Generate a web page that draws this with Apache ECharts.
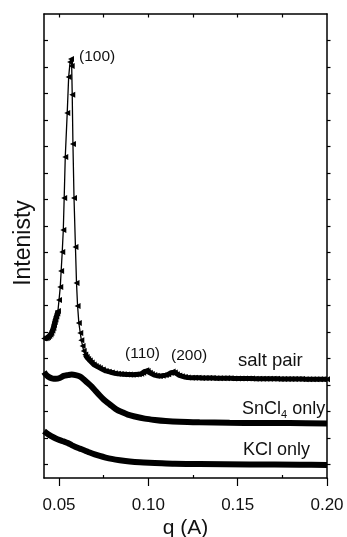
<!DOCTYPE html>
<html>
<head>
<meta charset="utf-8">
<script src="https://cdn.jsdelivr.net/npm/echarts@6/dist/echarts.min.js"></script>
<style>
  html, body { margin: 0; padding: 0; background: #fff; }
  #chart { width: 347px; height: 537px; }
</style>
</head>
<body>
<div id="chart"></div>
<script>
// q range and ticks
const qMin = 0.0416
const qMax = 0.2
const xMajorTicks = [0.05, 0.10, 0.15, 0.20]
const xMinorTicks = [0.075, 0.125, 0.175]
const xTopTicks = [0.05, 0.075, 0.10, 0.125, 0.15, 0.175]
const yTicks = [0.5, 1.5, 2.5, 3.5, 4.5, 5.5, 6.5, 7.5, 8.5, 9.5, 10.5, 11.5, 12.5, 13.5, 14.5, 15.5, 16.5]

// salt pair (offset curve with peaks)
const qSalt = [
  0.0417, 0.0424, 0.0431, 0.0438, 0.0445, 0.0452, 0.0457, 0.0463, 0.0468, 0.0472,
  0.0476, 0.0480, 0.0485, 0.0490, 0.0494, 0.0500, 0.0507, 0.0512, 0.0518, 0.0524,
  0.0529, 0.0535, 0.0546, 0.0554, 0.0562, 0.0567, 0.0571, 0.0574, 0.0578, 0.0584,
  0.0592, 0.0598, 0.0604, 0.0611, 0.0619, 0.0625, 0.0632, 0.0638, 0.0647, 0.0655,
  0.0663, 0.0672, 0.0683, 0.0694, 0.0705, 0.0717, 0.0728, 0.0745, 0.0761, 0.0778,
  0.0795, 0.0812, 0.0829, 0.0845, 0.0862, 0.0879, 0.0896, 0.0912, 0.0929, 0.0946,
  0.0960, 0.0971, 0.0980, 0.0988, 0.0996, 0.1008, 0.1019, 0.1033, 0.1047, 0.1064,
  0.1080, 0.1097, 0.1111, 0.1125, 0.1136, 0.1148, 0.1159, 0.1173, 0.1187, 0.1204,
  0.1220, 0.1243,
  0.126, 0.128, 0.130, 0.132, 0.134, 0.136, 0.138, 0.140, 0.142, 0.144,
  0.146, 0.148, 0.150, 0.152, 0.154, 0.156, 0.158, 0.160, 0.162, 0.164,
  0.166, 0.168, 0.170, 0.172, 0.174, 0.176, 0.178, 0.180, 0.182, 0.184,
  0.186, 0.188, 0.190, 0.192, 0.194, 0.196, 0.198, 0.200
]
const iSalt = [
  5.26, 5.27, 5.28, 5.31, 5.36, 5.41, 5.47, 5.56, 5.66, 5.77,
  5.88, 5.98, 6.09, 6.20, 6.30, 6.71, 7.20, 7.81, 8.52, 9.35,
  10.56, 12.11, 13.77, 15.12, 15.69, 15.80, 15.54, 14.45, 12.60, 10.56,
  8.71, 7.35, 6.49, 5.85, 5.47, 5.20, 4.98, 4.79, 4.66, 4.56,
  4.49, 4.43, 4.36, 4.28, 4.22, 4.19, 4.15, 4.09, 4.04, 4.01,
  3.98, 3.95, 3.93, 3.92, 3.91, 3.90, 3.90, 3.89, 3.90, 3.91,
  3.93, 3.97, 4.02, 4.06, 4.04, 3.97, 3.92, 3.88, 3.86, 3.85,
  3.86, 3.88, 3.91, 3.97, 4.02, 3.98, 3.91, 3.87, 3.84, 3.81,
  3.79, 3.78,
  3.78, 3.78, 3.77, 3.77, 3.77, 3.77, 3.76, 3.76, 3.76, 3.76,
  3.76, 3.75, 3.75, 3.75, 3.75, 3.75, 3.75, 3.74, 3.74, 3.74,
  3.74, 3.74, 3.74, 3.74, 3.73, 3.73, 3.73, 3.73, 3.73, 3.73,
  3.73, 3.72, 3.72, 3.72, 3.72, 3.72, 3.72, 3.72
]

// SnCl4 only
const qSn = [
  0.0416, 0.0431, 0.0448, 0.0465, 0.0482, 0.0504, 0.0526, 0.0549, 0.0571, 0.0593,
  0.0616, 0.0638, 0.0661, 0.0683, 0.0705, 0.0728, 0.0750, 0.0773, 0.0795, 0.0823,
  0.0851, 0.0885, 0.0924, 0.0980, 0.1036, 0.1097, 0.1175, 0.1287, 0.1455, 0.1623,
  0.1791, 0.2000
]
const iSn = [
  4.00, 3.87, 3.79, 3.75, 3.74, 3.77, 3.85, 3.88, 3.90, 3.88,
  3.83, 3.72, 3.58, 3.45, 3.28, 3.11, 2.96, 2.83, 2.72, 2.58,
  2.49, 2.39, 2.32, 2.24, 2.19, 2.15, 2.12, 2.10, 2.08, 2.07,
  2.07, 2.06
]

// KCl only
const qKcl = [
  0.0416, 0.0437, 0.0459, 0.0482, 0.0504, 0.0526, 0.0549, 0.0571, 0.0593, 0.0616,
  0.0644, 0.0672, 0.0700, 0.0728, 0.0761, 0.0795, 0.0840, 0.0896, 0.0952, 0.1036,
  0.1148, 0.1287, 0.1567, 0.1847, 0.2000
]
const iKcl = [
  1.77, 1.66, 1.57, 1.49, 1.43, 1.38, 1.32, 1.24, 1.17, 1.11,
  1.04, 0.96, 0.89, 0.83, 0.77, 0.72, 0.67, 0.62, 0.59, 0.57,
  0.54, 0.53, 0.51, 0.50, 0.49
]

const pairs = (xs, ys) => xs.map((x, i) => [x, ys[i]])

// where the salt-pair symbols pile up into a solid band (outside the steep peak)
const denseBelow = 0.0495
const denseAbove = 0.064
const saltBand = pairs(qSalt, iSalt).map(p =>
  (p[0] <= denseBelow || p[0] >= denseAbove) ? p : [p[0], '-'])

const FONT = '"Liberation Sans", Arial, sans-serif'
const INK = '#111'

const chart = echarts.init(document.getElementById('chart'), null, { renderer: 'canvas' })

const frameLine = { show: true, lineStyle: { color: '#000', width: 1.5 } }

let option = {
  backgroundColor: '#fff',
  animation: false,
  grid: { left: 44, right: 20, top: 14, bottom: 59, containLabel: false, outerBoundsMode: 'none' },
  xAxis: [
    {
      type: 'value',
      position: 'bottom',
      min: qMin,
      max: qMax,
      axisLine: frameLine,
      axisTick: { show: true, inside: false, length: 8, customValues: xMajorTicks, lineStyle: { color: '#000', width: 1.2 } },
      axisLabel: {
        show: true,
        customValues: xMajorTicks,
        formatter: (v) => v.toFixed(2),
        margin: 19,
        fontSize: 17,
        fontFamily: FONT,
        color: INK,
      },
      splitLine: { show: false },
      name: 'q (A)',
      nameLocation: 'middle',
      nameGap: 40,
      nameMoveOverlap: false,
      nameTextStyle: { fontSize: 21, fontFamily: FONT, color: INK },
    },
    {
      type: 'value',
      position: 'bottom',
      min: qMin,
      max: qMax,
      axisLine: { show: false },
      axisTick: { show: true, inside: true, length: 3, customValues: xMinorTicks, lineStyle: { color: '#000', width: 1.2 } },
      axisLabel: { show: false },
      splitLine: { show: false },
    },
    {
      type: 'value',
      position: 'top',
      min: qMin,
      max: qMax,
      axisLine: frameLine,
      axisTick: { show: true, inside: true, length: 3.5, customValues: xTopTicks, lineStyle: { color: '#000', width: 1.2 } },
      axisLabel: { show: false },
      splitLine: { show: false },
    },
  ],
  yAxis: [
    {
      type: 'value',
      position: 'left',
      min: 0,
      max: 17.5,
      axisLine: frameLine,
      axisTick: { show: true, inside: true, length: 4, customValues: yTicks, lineStyle: { color: '#000', width: 1.2 } },
      axisLabel: { show: false },
      splitLine: { show: false },
      name: 'Intenisty',
      nameLocation: 'middle',
      nameGap: 9,
      nameTextStyle: { fontSize: 23, fontFamily: FONT, color: INK, padding: [0, 0, 0, 6] },
    },
    {
      type: 'value',
      position: 'right',
      min: 0,
      max: 17.5,
      axisLine: frameLine,
      axisTick: { show: true, inside: false, length: 3.5, customValues: yTicks, lineStyle: { color: '#000', width: 1.2 } },
      axisLabel: { show: false },
      splitLine: { show: false },
    },
  ],
  series: [
    {
      name: 'salt pair band',
      type: 'line',
      data: saltBand,
      symbol: 'none',
      connectNulls: false,
      lineStyle: { color: '#000', width: 5 },
      z: 2,
    },
    {
      name: 'salt pair',
      type: 'line',
      data: pairs(qSalt, iSalt),
      symbol: 'triangle',
      symbolRotate: 90,
      symbolSize: 6,
      showSymbol: true,
      showAllSymbol: true,
      itemStyle: { color: '#000' },
      lineStyle: { color: '#000', width: 1.3 },
      z: 3,
    },
    {
      name: 'SnCl4 only',
      type: 'line',
      data: pairs(qSn, iSn),
      symbol: 'none',
      smooth: 0.3,
      lineStyle: { color: '#000', width: 6 },
    },
    {
      name: 'KCl only',
      type: 'line',
      data: pairs(qKcl, iKcl),
      symbol: 'none',
      smooth: 0.3,
      lineStyle: { color: '#000', width: 6 },
    },
  ],
  graphic: [
    { type: 'text', x: 79, y: 57, style: { text: '(100)', fontSize: 15.5, fontFamily: FONT, fill: INK, verticalAlign: 'middle' } },
    { type: 'text', x: 125, y: 354, style: { text: '(110)', fontSize: 15.5, fontFamily: FONT, fill: INK, verticalAlign: 'middle' } },
    { type: 'text', x: 171, y: 356, style: { text: '(200)', fontSize: 15.5, fontFamily: FONT, fill: INK, verticalAlign: 'middle' } },
    { type: 'text', x: 238, y: 361, style: { text: 'salt pair', fontSize: 18.5, fontFamily: FONT, fill: INK, verticalAlign: 'middle' } },
    {
      type: 'text', x: 242, y: 409,
      style: {
        text: '{a|SnCl}{s|4}{a| only}',
        verticalAlign: 'middle',
        rich: {
          a: { fontSize: 18, fontFamily: FONT, fill: INK },
          s: { fontSize: 11, fontFamily: FONT, fill: INK, padding: [12, 0, 0, 0] },
        },
      },
    },
    { type: 'text', x: 243, y: 450, style: { text: 'KCl only', fontSize: 18, fontFamily: FONT, fill: INK, verticalAlign: 'middle' } },
  ],
}

chart.setOption(option)
</script>
</body>
</html>
